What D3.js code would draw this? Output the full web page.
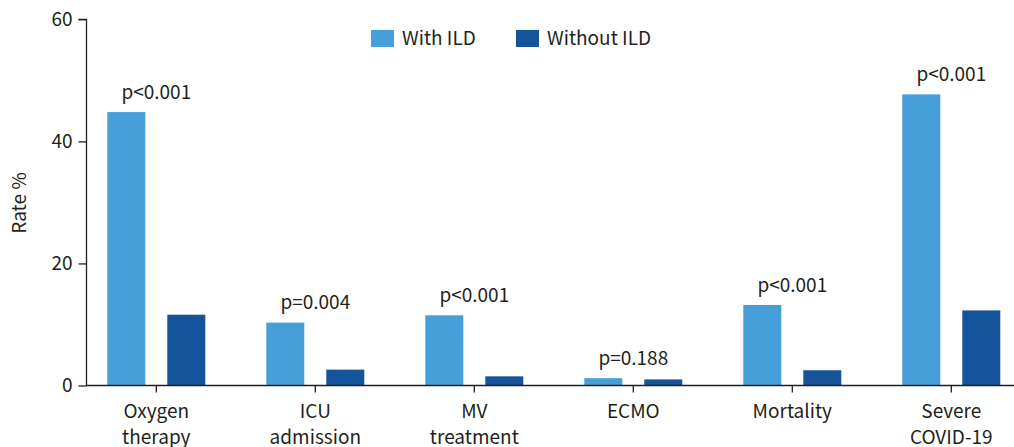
<!DOCTYPE html>
<html><head><meta charset="utf-8">
<script src="https://cdn.jsdelivr.net/npm/d3@7"></script>
<style>
html,body{margin:0;padding:0;background:#fff;}
svg{display:block;}
text{font-family:"Noto Sans CJK KR","Noto Sans",sans-serif;fill:#231f20;}
</style></head>
<body>
<svg id="chart" width="1014" height="447"></svg>
<script>
const categories = [["Oxygen","therapy"],["ICU","admission"],["MV","treatment"],["ECMO"],["Mortality"],["Severe","COVID-19"]];
const withILD = [44.8, 10.3, 11.5, 1.2, 13.2, 47.7];
const withoutILD = [11.6, 2.6, 1.5, 1.0, 2.5, 12.3];
const pValues = ["p<0.001","p=0.004","p<0.001","p=0.188","p<0.001","p<0.001"];
const seriesNames = ["With ILD","Without ILD"];
const yTicks = [0, 20, 40, 60];
const colors = ["#479fd9","#15539a"];

const svg = d3.select("#chart");
const keys = categories.map(c => c.join(" "));
const x = d3.scaleBand().domain(keys).range([76.8, 1030.8]).padding(0);
const y = d3.scaleLinear().domain([0, 60]).range([385.5, 19.3]);
const cx = k => x(k) + x.bandwidth() / 2;
const barW = 38, off = 30;
const fs = "19px";

// y axis
const yAxis = d3.axisLeft(y).tickValues(yTicks).tickSize(8).tickPadding(6);
const gy = svg.append("g").attr("transform", "translate(86.5,0)").call(yAxis);
gy.select(".domain").attr("stroke", "#231f20").attr("stroke-width", 1.3).attr("d", `M-8,${y(60)}H0V${y(0)}`);
gy.selectAll(".tick line").attr("stroke", "#231f20").attr("stroke-width", 1.3);
gy.selectAll(".tick text").style("font-size", fs).attr("fill", "#231f20");

// bars
const data = keys.map((k, i) => ({k, w: withILD[i], wo: withoutILD[i], p: pValues[i]}));
svg.append("g").selectAll("rect.w").data(data).join("rect")
  .attr("x", d => cx(d.k) - off - barW / 2).attr("width", barW)
  .attr("y", d => y(d.w)).attr("height", d => y(0) - y(d.w)).attr("fill", colors[0]);
svg.append("g").selectAll("rect.wo").data(data).join("rect")
  .attr("x", d => cx(d.k) + off - barW / 2).attr("width", barW)
  .attr("y", d => y(d.wo)).attr("height", d => y(0) - y(d.wo)).attr("fill", colors[1]);

// x axis
const xAxis = d3.axisBottom(x).tickSize(7).tickFormat("");
const gx = svg.append("g").attr("transform", `translate(0,${y(0)})`).call(xAxis);
gx.select(".domain").attr("stroke", "#231f20").attr("stroke-width", 1.3).attr("d", "M86,0H1014");
gx.selectAll(".tick line").attr("stroke", "#231f20").attr("stroke-width", 1.3);
gx.selectAll(".tick").each(function(k, i) {
  const lines = categories[i];
  const t = d3.select(this).append("text").attr("text-anchor", "middle").style("font-size", fs).attr("fill", "#231f20");
  lines.forEach((l, j) => t.append("tspan").attr("x", 0).attr("y", 32 + j * 26).text(l));
});

// p labels
svg.append("g").selectAll("text").data(data).join("text")
  .attr("x", d => cx(d.k)).attr("y", d => y(Math.max(d.w, d.wo)) - 20)
  .attr("dy", "0.35em").attr("text-anchor", "middle").style("font-size", fs).text(d => d.p);

// y label
svg.append("text").attr("transform", "translate(19,203) rotate(-90)").attr("text-anchor", "middle")
  .attr("dy", "0.35em").style("font-size", "19px").text("Rate %");

// legend
const legX = [371, 516];
const lg = svg.append("g").selectAll("g").data(seriesNames).join("g").attr("transform", (d, i) => `translate(${legX[i]},30)`);
lg.append("rect").attr("width", 23).attr("height", 17).attr("fill", (d, i) => colors[i]);
lg.append("text").attr("x", 31).attr("y", 8.5).attr("dy", "0.35em").style("font-size", fs).text(d => d);
</script>
</body></html>
